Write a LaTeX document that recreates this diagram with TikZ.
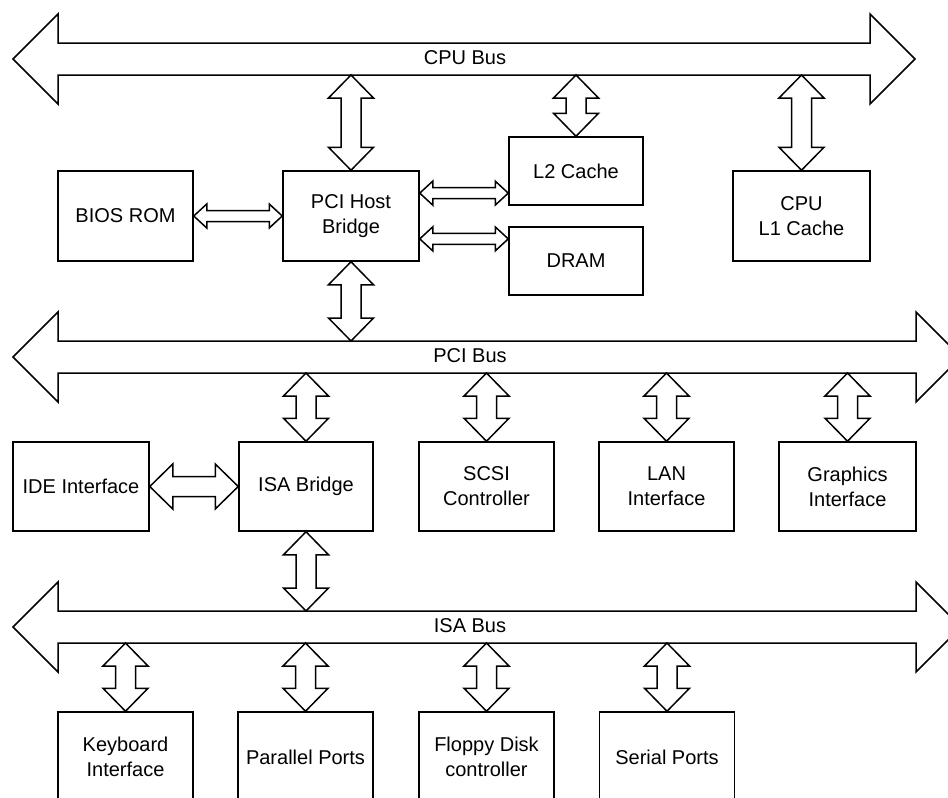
\documentclass[tikz,border=0pt]{standalone}
\usepackage{fontspec}
\setmainfont{Liberation Sans}
\usetikzlibrary{calc}
\usetikzlibrary{positioning}

\begin{document}
\begin{tikzpicture}[x=1pt, y=-1pt, line width=1.5pt, font=\fontsize{20}{25}\selectfont]
      \tikzset{
        fat link/.style args={#1/#2/#3}{fill=white,
            to path={let \p1=(\tikztostart), \p2=(\tikztotarget),
                \n1={atan2(\y2-\y1,\x2-\x1)}, \n2={veclen(\x2-\x1,\y2-\y1)} in
                {[shift={(\p1)}, rotate=\n1]
                  (0,0) -- (#3,#2) -- (#3,#1) -- ({\n2-#3},#1) -- ({\n2-#3},#2) -- (\n2,0)
                  -- ({\n2-#3},-#2) -- ({\n2-#3},-#1) -- (#3,-#1) -- (#3,-#2) -- cycle}}},
        bus/.style={fat link=16/45/45},
        link/.style={fat link=10/22.5/23},
        thin link/.style={fat link=5.5/12/13},
        block/.style={draw, fill=white, inner sep=0pt, align=center,
            minimum width=135pt, minimum height=90pt},
        low block/.style={block, minimum height=68pt}
      }
      \useasboundingbox (0,0) rectangle (948,798);

      % Buses
      \coordinate (cpu-w) at (13,59);  \coordinate (cpu-e) at (915,59);
      \coordinate (pci-w) at (13,357); \coordinate (pci-e) at (961,357);
      \coordinate (isa-w) at (13,627); \coordinate (isa-e) at (961,627);
      \coordinate (cpu-s) at (0,75);
      \coordinate (pci-n) at (0,341);  \coordinate (pci-s) at (0,373);
      \coordinate (isa-n) at (0,611);  \coordinate (isa-s) at (0,643);
      \draw[bus] (cpu-w) to (cpu-e);
      \draw[bus] (pci-w) to (pci-e);
      \draw[bus] (isa-w) to (isa-e);
      \node (cpubus) at (465,58) {CPU Bus};
      \node (pcibus) at (470,356) {PCI Bus};
      \node (isabus) at (470,626) {ISA Bus};

      % Host side
      \node[block] (bios) at (125.5,216) {BIOS ROM};
      \node[block, minimum width=136pt] (host) at (351,216) {PCI Host\\Bridge};
      \node[low block, minimum width=134pt] (l2) at (576,171) {L2 Cache};
      \node[low block, minimum width=134pt] (dram) at (576,261) {DRAM};
      \node[block, minimum width=137pt] (cpu) at (801.5,216) {CPU\\L1 Cache};

      % PCI devices
      \node[block, minimum width=136pt, minimum height=89pt] (ide) at (81,486.5) {IDE Interface};
      \node[block, minimum width=134pt, minimum height=89pt] (isab) at (306,486.5) {ISA Bridge};
      \node[block, minimum height=89pt] (scsi) at (486.5,486.5) {SCSI\\Controller};
      \node[block, minimum height=89pt] (lan) at (666.5,486.5) {LAN\\Interface};
      \node[block, minimum width=137pt, minimum height=89pt] (gfx) at (847.5,486.5) {Graphics\\Interface};

      % ISA devices
      \node[block] (kbd) at (125.5,757) {Keyboard\\Interface};
      \node[block] (par) at (305.5,757) {Parallel Ports};
      \node[block] (fdc) at (486.5,757) {Floppy Disk\\controller};
      \node[block] (ser) at (667,757) {Serial Ports};

      % Links
      \foreach \b in {host,l2,cpu}
        \draw[link] (\b.north) to (\b.north |- cpu-s);
      \draw[link] (host.south) to (host.south |- pci-n);
      \coordinate (h1) at ($(host.north east)!0.25!(host.south east)$);
      \coordinate (h2) at ($(host.north east)!0.75!(host.south east)$);
      \draw[thin link] (bios.east) to (host.west);
      \draw[thin link] (h1) to (h1 -| l2.west);
      \draw[thin link] (h2) to (h2 -| dram.west);
      \foreach \b in {isab,scsi,lan,gfx}
        \draw[link] (\b.north) to (\b.north |- pci-s);
      \draw[link] (ide.east) to (isab.west);
      \draw[link] (isab.south) to (isab.south |- isa-n);
      \foreach \b in {kbd,par,fdc,ser}
        \draw[link] (\b.north) to (\b.north |- isa-s);
\end{tikzpicture}
\end{document}
